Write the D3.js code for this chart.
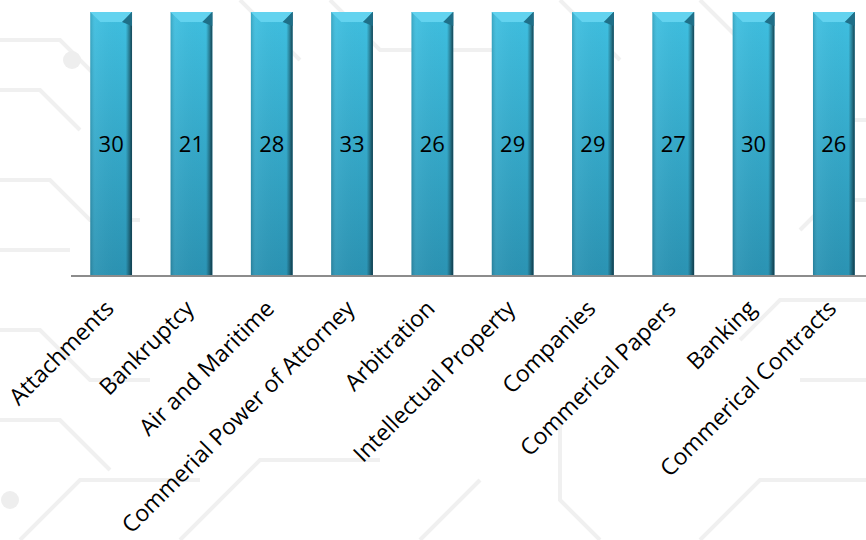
<!DOCTYPE html>
<html>
<head>
<meta charset="utf-8">
<script src="https://cdn.jsdelivr.net/npm/d3@7"></script>
<style>
  body { margin: 0; background: #fff; }
  svg { display: block; }
</style>
</head>
<body>
<div id="chart"></div>
<script>
// data
var categories = ["Attachments", "Bankruptcy", "Air and Maritime", "Commerial Power of Attorney",
    "Arbitration", "Intellectual Property", "Companies", "Commerical Papers", "Banking", "Commerical Contracts"];
var values = [30, 21, 28, 33, 26, 29, 29, 27, 30, 26];
var yDomain = [0, 20];   // axis max sits below every value, so every bar reaches the top

var W = 866, H = 540;
var margin = { top: 12, left: 71, bottom: 264 };
var plotRight = 874;

var svg = d3.select("#chart").append("svg")
    .attr("width", W)
    .attr("height", H);

/*********************
 * BACKGROUND
 *********************/
var bg = svg.append("g").attr("fill", "none").attr("stroke", "#f0f0f0").attr("stroke-width", 4);
var bgPaths = [
    "M-10,40 L60,40 L120,100", "M0,90 L40,90 L80,130", "M-10,180 L50,180 L90,220 L140,220",
    "M0,250 L70,250", "M-10,330 L40,330 L90,380 L150,380", "M0,420 L60,420 L110,470",
    "M20,540 L80,480 L200,480", "M180,540 L260,460 L380,460", "M420,540 L480,480",
    "M600,540 L560,500 L560,420", "M700,540 L760,480 L866,480", "M866,300 L780,300 L740,340",
    "M866,380 L800,380", "M866,120 L820,120", "M866,200 L830,200 L800,230",
    "M240,0 L300,60", "M330,0 L380,50 L520,50", "M560,0 L620,60", "M700,0 L760,60"
];
bg.selectAll("path").data(bgPaths).enter().append("path").attr("d", function (d) { return d; });
bg.append("circle").attr("cx", 72).attr("cy", 60).attr("r", 9).attr("fill", "#eeeeee").attr("stroke", "none");
bg.append("circle").attr("cx", 10).attr("cy", 500).attr("r", 9).attr("fill", "#eeeeee").attr("stroke", "none");

/*********************
 * SCALES
 *********************/
var x = d3.scaleBand()
    .domain(categories)
    .range([margin.left, plotRight])
    .paddingInner(0.48)
    .paddingOuter(0.24);

var y = d3.scaleLinear()
    .domain(yDomain)
    .range([H - margin.bottom, margin.top])
    .clamp(true);

/*********************
 * GRADIENTS
 *********************/
var defs = svg.append("defs");
var g1 = defs.append("linearGradient").attr("id", "barGrad")
    .attr("x1", 0).attr("y1", 0).attr("x2", 0).attr("y2", 1);
g1.append("stop").attr("offset", "0%").attr("stop-color", "#3fbfe0");
g1.append("stop").attr("offset", "100%").attr("stop-color", "#2b93b3");

var g2 = defs.append("linearGradient").attr("id", "sideGrad")
    .attr("x1", 0).attr("y1", 0).attr("x2", 1).attr("y2", 0);
g2.append("stop").attr("offset", "0%").attr("stop-color", "#000").attr("stop-opacity", 0.15);
g2.append("stop").attr("offset", "12%").attr("stop-color", "#fff").attr("stop-opacity", 0.05);
g2.append("stop").attr("offset", "85%").attr("stop-color", "#000").attr("stop-opacity", 0);
g2.append("stop").attr("offset", "94%").attr("stop-color", "#000").attr("stop-opacity", 0.35);
g2.append("stop").attr("offset", "100%").attr("stop-color", "#0a2e3c").attr("stop-opacity", 0.8);

/*********************
 * BARS
 *********************/
var bars = svg.append("g").selectAll("g.bar")
    .data(values)
    .enter()
    .append("g")
    .attr("class", "bar");

bars.append("rect")
    .attr("x", function (d, i) { return x(categories[i]); })
    .attr("y", function (d) { return y(d); })
    .attr("width", x.bandwidth())
    .attr("height", function (d) { return y(0) - y(d); })
    .attr("fill", "url(#barGrad)");

bars.append("rect")
    .attr("x", function (d, i) { return x(categories[i]); })
    .attr("y", function (d) { return y(d); })
    .attr("width", x.bandwidth())
    .attr("height", function (d) { return y(0) - y(d); })
    .attr("fill", "url(#sideGrad)");

// bevelled top
var bev = 10;
bars.append("path")
    .attr("d", function (d, i) {
        var x0 = x(categories[i]), x1 = x0 + x.bandwidth(), t = y(d);
        return "M" + x0 + "," + t + "L" + x1 + "," + t + "L" + (x1 - bev) + "," + (t + bev) +
            "L" + (x0 + bev) + "," + (t + bev) + "Z";
    })
    .attr("fill", "#63d3ef");
bars.append("path")
    .attr("d", function (d, i) {
        var x1 = x(categories[i]) + x.bandwidth(), t = y(d);
        return "M" + x1 + "," + t + "L" + x1 + "," + (t + bev + 4) + "L" + (x1 - bev) + "," + (t + bev) + "Z";
    })
    .attr("fill", "#1f6f88");

// value labels
bars.append("text")
    .attr("x", function (d, i) { return x(categories[i]) + x.bandwidth() / 2; })
    .attr("y", function (d) { return (y(d) + y(0)) / 2; })
    .attr("dy", "0.35em")
    .attr("text-anchor", "middle")
    .style("font-family", "'Open Sans', sans-serif")
    .style("font-size", "22px")
    .style("fill", "#000")
    .text(function (d) { return d; });

/*********************
 * X AXIS
 *********************/
var xAxis = svg.append("g")
    .attr("transform", "translate(0," + y(0) + ")")
    .call(d3.axisBottom(x).tickSize(0).tickSizeOuter(0));

xAxis.select(".domain")
    .attr("d", "M" + margin.left + ",0H" + plotRight)
    .attr("stroke", "#8c8c8c")
    .attr("stroke-width", 2);

xAxis.selectAll("text")
    .style("font-family", "'Open Sans', sans-serif")
    .style("font-size", "23px")
    .style("fill", "#000")
    .attr("text-anchor", "end")
    .attr("dy", 0)
    .attr("y", 0)
    .attr("transform", "translate(4,34) rotate(-45)");
</script>
</body>
</html>
